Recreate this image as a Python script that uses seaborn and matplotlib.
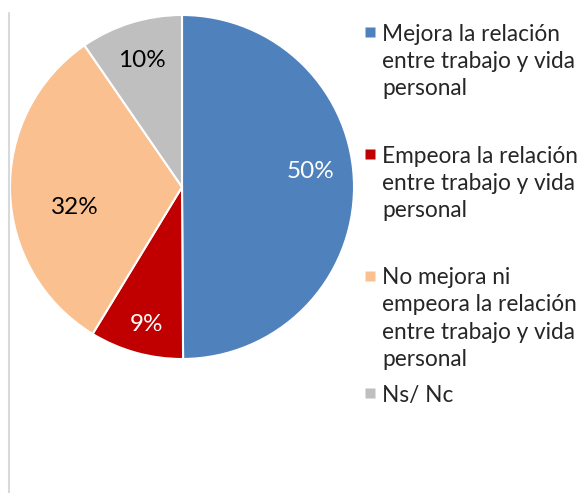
import matplotlib
matplotlib.use("Agg")
import numpy as np
import matplotlib.pyplot as plt
import seaborn as sns
from matplotlib.lines import Line2D

sns.set_theme(style="white")
plt.rcParams['font.family'] = ['Lato', 'DejaVu Sans']

categories = [
    "Mejora la relación\nentre trabajo y vida\npersonal",
    "Empeora la relación\nentre trabajo y vida\npersonal",
    "No mejora ni\nempeora la relación\nentre trabajo y vida\npersonal",
    "Ns/ Nc",
]
values = [49.9, 8.8, 31.7, 9.6]
pct_labels = ["50%", "9%", "32%", "10%"]
colors = ["#4F81BD", "#C00000", "#FAC090", "#BFBFBF"]
label_colors = ["white", "white", "black", "black"]
# small pixel nudges of the percentage labels (styling)
label_offsets = [(-6, 15), (0, -8), (27, -17), (0, -2)]

FS_PIE = 17.5
FS_LEG = 16.3
W, H = 586, 493
fig = plt.figure(figsize=(W / 100, H / 100), dpi=100)
cx, cy, r = 182, 187, 172
ax = fig.add_axes([(cx - r) / W, (H - cy - r) / H, 2 * r / W, 2 * r / H])

wedges, _ = ax.pie(values, colors=colors, startangle=90, counterclock=False,
                   radius=1, wedgeprops=dict(edgecolor="white", linewidth=1.5))
for w, lab, lc, off in zip(wedges, pct_labels, label_colors, label_offsets):
    ang = np.deg2rad((w.theta1 + w.theta2) / 2)
    ax.annotate(lab, (0.78 * np.cos(ang), 0.78 * np.sin(ang)), xytext=off,
                textcoords="offset pixels", ha="center", va="center",
                fontsize=FS_PIE, color=lc)
ax.set_xlim(-1, 1)
ax.set_ylim(-1, 1)
ax.set_aspect("equal")
ax.axis("off")


def make_handles(cols):
    return [Line2D([], [], marker="s", linestyle="none", markersize=7.9,
                   markerfacecolor=c, markeredgecolor="none") for c in cols]


def fix_legend(leg):
    for col in leg._legend_handle_box.get_children():
        for item in col.get_children():
            item.align = "top"
    for t in leg.get_texts():
        t.set_linespacing(1.36)
    return leg


common = dict(loc="upper left", frameon=False, fontsize=FS_LEG, handlelength=0.53,
              handleheight=0.8, handletextpad=0.27, borderpad=0, borderaxespad=0)
leg1 = fig.legend(make_handles(colors[:3]), categories[:3],
                  bbox_to_anchor=(364 / W, 1 - 24 / H), labelspacing=2.05, **common)
fix_legend(leg1)
leg2 = fig.legend(make_handles(colors[3:]), categories[3:],
                  bbox_to_anchor=(364 / W, 1 - 385 / H), labelspacing=1.0, **common)
fix_legend(leg2)

fig.add_artist(Line2D([8.5 / W, 8.5 / W], [0, 1 - 13 / H], color="#D9D9D9", linewidth=1.5))

fig.savefig("out.png", dpi=100)
